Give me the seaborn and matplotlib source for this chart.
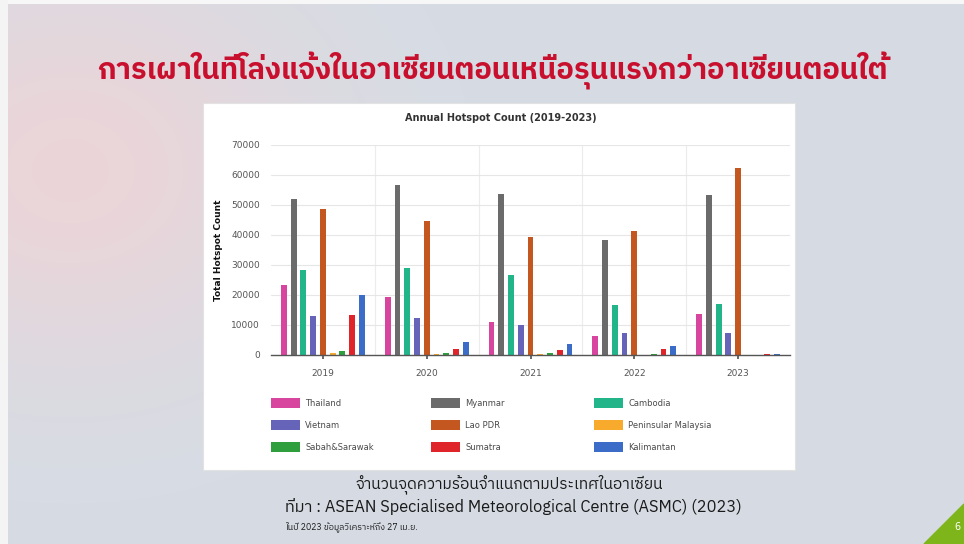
import numpy as np
import pandas as pd
import matplotlib
matplotlib.use("Agg")
import matplotlib.pyplot as plt
import seaborn as sns
from matplotlib import font_manager
from matplotlib.ft2font import FT2Font
from matplotlib.patches import Rectangle, Polygon, Patch

# ---------------- data ----------------
years = ["2019", "2020", "2021", "2022", "2023"]
countries = ["Thailand", "Myanmar", "Cambodia", "Vietnam", "Lao PDR",
             "Peninsular Malaysia", "Sabah&Sarawak", "Sumatra", "Kalimantan"]
thailand = [23300, 19400, 11100, 6300, 13600]
myanmar = [51900, 56800, 53600, 38300, 53300]
cambodia = [28200, 29100, 26600, 16600, 17100]
vietnam = [13000, 12400, 9900, 7400, 7300]
lao_pdr = [48600, 44700, 39400, 41300, 62400]
peninsular_malaysia = [800, 200, 200, 100, 100]
sabah_sarawak = [1200, 700, 600, 300, 100]
sumatra = [13200, 2000, 1700, 2000, 300]
kalimantan = [20000, 4300, 3800, 3000, 300]
colors = ["#d8459f", "#6b6b6b", "#22b58a", "#6664b8", "#c4571f",
          "#f8aa2c", "#2f9e3c", "#e0252a", "#3b6cc8"]
y_ticks = [0, 10000, 20000, 30000, 40000, 50000, 60000, 70000]

title_th = "การเผาในที่โล่งแจ้งในอาเซียนตอนเหนือรุนแรงกว่าอาเซียนตอนใต้"
caption_th = "จำนวนจุดความร้อนจำแนกตามประเทศในอาเซียน"
source_th = "ที่มา : ASEAN Specialised Meteorological Centre (ASMC) (2023)"
note_th = "ในปี 2023 ข้อมูลวิเคราะห์ถึง 27 เม.ย."

series = [thailand, myanmar, cambodia, vietnam, lao_pdr,
          peninsular_malaysia, sabah_sarawak, sumatra, kalimantan]
rows = []
for c, vals in zip(countries, series):
    for y, v in zip(years, vals):
        rows.append({"Year": y, "Country": c, "Count": v})
df = pd.DataFrame(rows)

# ---------------- fonts ----------------
def thai_families():
    fams = []
    for f in font_manager.fontManager.ttflist:
        try:
            cm = FT2Font(f.fname).get_charmap()
        except Exception:
            continue
        if 0x0E01 in cm and f.name not in fams:
            fams.append(f.name)
    return fams

tf = thai_families()
pref = [n for n in tf if "Thai" in n] + [n for n in tf if "Thai" not in n]
thai_fam = pref[:1] + ["DejaVu Sans"]

sns.set_theme(style="white")
plt.rcParams["font.family"] = ["DejaVu Sans"]

W, H = 964, 544
fig = plt.figure(figsize=(W / 100, H / 100), dpi=100)

# ---------------- slide background ----------------
bg = fig.add_axes([0, 0, 1, 1], zorder=-10)
yy, xx = np.mgrid[0:H, 0:W]
base = np.array([214, 220, 228]) / 255.0
pink = np.array([238, 212, 215]) / 255.0
w = np.exp(-(((xx - 70) / 230.0) ** 2 + ((yy - 170) / 190.0) ** 2)) * 0.9
img = base[None, None, :] * (1 - w[..., None]) + pink[None, None, :] * w[..., None]
img[:4, :, :] = 0.97
img[:, :8, :] = 0.96
bg.imshow(img, extent=[0, W, H, 0], aspect="auto", interpolation="bilinear")
bg.set_xlim(0, W)
bg.set_ylim(H, 0)
bg.axis("off")
bg.add_patch(Polygon([[924, 544], [964, 504], [964, 544]], closed=True,
                     color="#7db51a"))
bg.text(957, 527, "6", color="white", fontsize=7, ha="center", va="center")
bg.add_patch(Rectangle((203, 103), 592, 367, facecolor="white",
                       edgecolor="#e2e2e2", lw=0.8))

# ---------------- chart ----------------
ax = fig.add_axes([271 / W, 1 - 355 / H, 519 / W, 210 / H])
sns.barplot(data=df, x="Year", y="Count", hue="Country", hue_order=countries,
            palette=colors, width=0.845, gap=0.4, saturation=1,
            errorbar=None, legend=False, linewidth=0, ax=ax)
ax.set_facecolor("none")
ax.set_xlim(-0.5, 4.5)
ax.set_ylim(0, 70000)
ax.set_yticks(y_ticks)
ax.set_yticklabels([str(t) for t in y_ticks])
ax.set_xticks(range(len(years)))
ax.set_xticks(np.arange(0.5, 4.5, 1.0), minor=True)
ax.grid(axis="y", color="#e6e6e6", lw=0.8)
ax.grid(axis="x", which="minor", color="#ececec", lw=0.8)
ax.set_axisbelow(True)
for s in ["top", "right", "left"]:
    ax.spines[s].set_visible(False)
ax.spines["bottom"].set_color("#555555")
ax.spines["bottom"].set_linewidth(1.0)
ax.tick_params(axis="y", length=0, labelsize=6.5, labelcolor="#555555", pad=8)
ax.tick_params(axis="x", which="major", length=3, color="#555555",
               labelsize=6.5, labelcolor="#555555", pad=7, bottom=True)
ax.tick_params(axis="x", which="minor", length=0)
ax.set_xlabel("")
ax.set_ylabel("Total Hotspot Count", fontsize=6.5, fontweight="bold",
              color="#111111", labelpad=6)
fig.text(501 / W, 1 - 118 / H, "Annual Hotspot Count (2019-2023)",
         fontsize=7, fontweight="bold", color="#333333", ha="center", va="center")

# ---------------- legend (three columns) ----------------
col_x = [271, 431, 594]
for ci in range(3):
    idx = [ci, ci + 3, ci + 6]
    handles = [Patch(facecolor=colors[i], edgecolor="none") for i in idx]
    labels = [countries[i] for i in idx]
    fig.legend(handles, labels, loc="upper left",
               bbox_to_anchor=(col_x[ci] / W, 1 - 398 / H), frameon=False,
               fontsize=6, handlelength=3.5, handleheight=1.45,
               handletextpad=0.6, labelspacing=1.45, borderpad=0,
               borderaxespad=0, labelcolor="#4a4a4a")

# ---------------- Thai texts ----------------
fig.text(492 / W, 1 - 71 / H, title_th, family=thai_fam, fontsize=21,
         fontweight="bold", color="#c8102e", ha="center", va="center")
fig.text(509 / W, 1 - 484 / H, caption_th, family=thai_fam, fontsize=11.2,
         color="#1a1a1a", ha="center", va="center")
fig.text(285 / W, 1 - 507 / H, source_th, family=thai_fam, fontsize=11.8,
         color="#1a1a1a", ha="left", va="center")
fig.text(285 / W, 1 - 527 / H, note_th, family=thai_fam, fontsize=6.3,
         color="#1a1a1a", ha="left", va="center")

fig.savefig("out.png", dpi=100)
